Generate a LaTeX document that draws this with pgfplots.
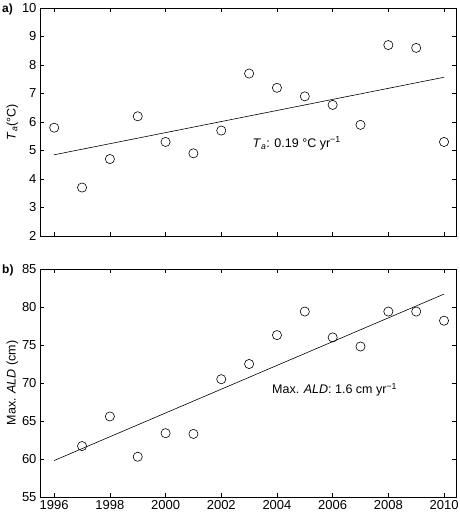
\documentclass[border=0pt]{standalone}
\usepackage{fontspec}
\setmainfont{Liberation Sans}
\usepackage{pgfplots}
\pgfplotsset{compat=1.18}
\begin{document}
\begin{tikzpicture}
\path[use as bounding box] (0pt,0pt) rectangle (460pt,-512pt);
\pgfplotsset{myax/.style={
  scale only axis, width=416pt, height=228pt,
  xmin=1995.49, xmax=2010.43,
  xtick={1996,1998,...,2010},
  tick align=inside, tick pos=both,
  major tick length=4pt,
  /pgf/number format/assume math mode=true,
  /pgf/number format/1000 sep={},
  tick label style={font=\fontsize{13}{15}\selectfont},
  label style={font=\fontsize{12.5}{14}\selectfont},
  axis line style={line width=0.6pt},
  every tick/.style={black, line width=0.6pt},
  ylabel shift=-3pt,
}}
\begin{axis}[myax, at={(40pt,-8pt)}, anchor=north west,
  ymin=2, ymax=10, ytick={2,3,...,10},
  xticklabels={},
  ylabel={\textit{T}\textsubscript{\textit{a}}(°C)}]
\addplot[only marks, mark=o, mark size=4.6pt, mark options={line width=0.6pt}] coordinates {
(1996,5.8) (1997,3.7) (1998,4.7) (1999,6.2) (2000,5.3) (2001,4.9) (2002,5.7)
(2003,7.7) (2004,7.2) (2005,6.9) (2006,6.6) (2007,5.9) (2008,8.7) (2009,8.6) (2010,5.3)};
\addplot[black, line width=0.6pt] coordinates {(1996,4.85) (2010,7.57)};
\node[anchor=west, font=\fontsize{12.5}{14}\selectfont] at (axis cs:2003.0,5.25) {\textit{T}\textsubscript{\textit{a}}: 0.19 °C yr\textsuperscript{−1}};
\end{axis}
\begin{axis}[myax, at={(40pt,-269pt)}, anchor=north west,
  ymin=55, ymax=85, ytick={55,60,...,85},
  ylabel={Max. \textit{ALD} (cm)}]
\addplot[only marks, mark=o, mark size=4.6pt, mark options={line width=0.6pt}] coordinates {
(1997,61.7) (1998,65.6) (1999,60.3) (2000,63.4) (2001,63.3) (2002,70.5) (2003,72.5)
(2004,76.3) (2005,79.4) (2006,76.0) (2007,74.8) (2008,79.4) (2009,79.4) (2010,78.2)};
\addplot[black, line width=0.6pt] coordinates {(1996,59.8) (2010,81.7)};
\node[anchor=west, font=\fontsize{12.5}{14}\selectfont] at (axis cs:2003.7,69.1) {Max. \textit{ALD}: 1.6 cm yr\textsuperscript{−1}};
\end{axis}
\node[anchor=north west, font=\bfseries\fontsize{12}{14}\selectfont, inner sep=0pt] at (2pt,-4pt) {a)};
\node[anchor=north west, font=\bfseries\fontsize{12}{14}\selectfont, inner sep=0pt] at (2pt,-265pt) {b)};
\end{tikzpicture}
\end{document}
